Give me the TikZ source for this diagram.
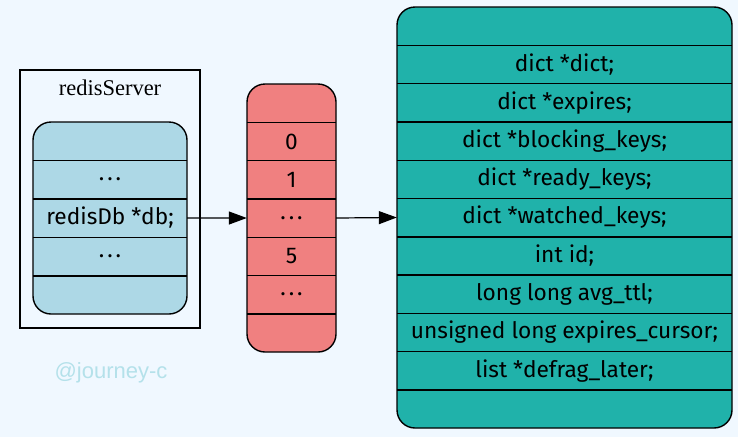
\documentclass[tikz,border=0pt]{standalone}
\usepackage{fontspec}
\setmainfont{Fira Sans}
\newfontfamily\serifA{Liberation Serif}
\newfontfamily\sansA{Liberation Sans}
\usetikzlibrary{arrows.meta}
\definecolor{bg}{HTML}{F0F8FF}
\definecolor{lblue}{HTML}{ADD8E6}
\definecolor{lcoral}{HTML}{F08080}
\definecolor{lsea}{HTML}{20B2AA}
\definecolor{wm}{HTML}{B4E1EA}
\newcommand\dotsA{.\kern3pt.\kern3pt.}
\begin{document}
\begin{tikzpicture}[x=1pt,y=-1pt,
  recbox/.style={draw=black, line width=1.4pt, rounded corners=18pt, inner sep=0pt},
  cell/.style={inner sep=0pt, font=\fontsize{22.7}{27}\selectfont, anchor=center},
  sep/.style={line width=1.4pt},
  arr/.style={line width=1.2pt, -{Triangle[length=18pt,width=13pt]}}]
\fill[bg] (0,0) rectangle (738,437);
\useasboundingbox (0,0) rectangle (738,437);
% cluster
\node[draw=black, line width=1.3pt, minimum width=180pt, minimum height=258pt, inner sep=0pt] (cluster) at (110,199) {};
\node[inner sep=0pt, font=\serifA\fontsize{22.5}{26}\selectfont] (clabel) at (110,88) {redisServer};
% blue record
\node[recbox, fill=lblue, minimum width=154pt, minimum height=192pt] (server) at (110,218) {};
\foreach [count=\i] \t in {{},{\dotsA},{redisDb *db;},{\dotsA},{}} {
  \node[cell, minimum width=154pt, minimum height=38.4pt] (s\i) at (110,{122+38.4*(\i-0.5)}) {\t};
}
\foreach \i in {1,...,4} \draw[sep] (s\i.south west) -- (s\i.south east);
% red record
\node[recbox, fill=lcoral, minimum width=89pt, minimum height=268pt] (dbarr) at (291.5,218) {};
\foreach [count=\i] \t in {{},{0},{1},{\dotsA},{5},{\dotsA},{}} {
  \node[cell, minimum width=89pt, minimum height=38.286pt] (r\i) at (291.5,{84+38.286*(\i-0.5)}) {\t};
}
\foreach \i in {1,...,6} \draw[sep] (r\i.south west) -- (r\i.south east);
% teal record
\node[recbox, fill=lsea, minimum width=335pt, minimum height=421pt] (redisdb) at (564.5,217.5) {};
\foreach [count=\i] \t in {{},{dict *dict;},{dict *expires;},{dict *blocking\_keys;},{dict *ready\_keys;},{dict *watched\_keys;},{int id;},{long long avg\_ttl;},{unsigned long expires\_cursor;},{list *defrag\_later;},{}} {
  \node[cell, minimum width=335pt, minimum height=38.27pt] (t\i) at (564.5,{7+38.27*(\i-0.5)}) {\t};
}
\foreach \i in {1,...,10} \draw[sep] (t\i.south west) -- (t\i.south east);
% arrows
\draw[arr] (s3.east) -- (r4.west);
\draw[arr] (r4.east) -- (t6.west);
% watermark
\node[inner sep=0pt, text=wm, font=\sansA\fontsize{22}{26}\selectfont] (wmark) at (111,373) {@journey-c};
\end{tikzpicture}
\end{document}
